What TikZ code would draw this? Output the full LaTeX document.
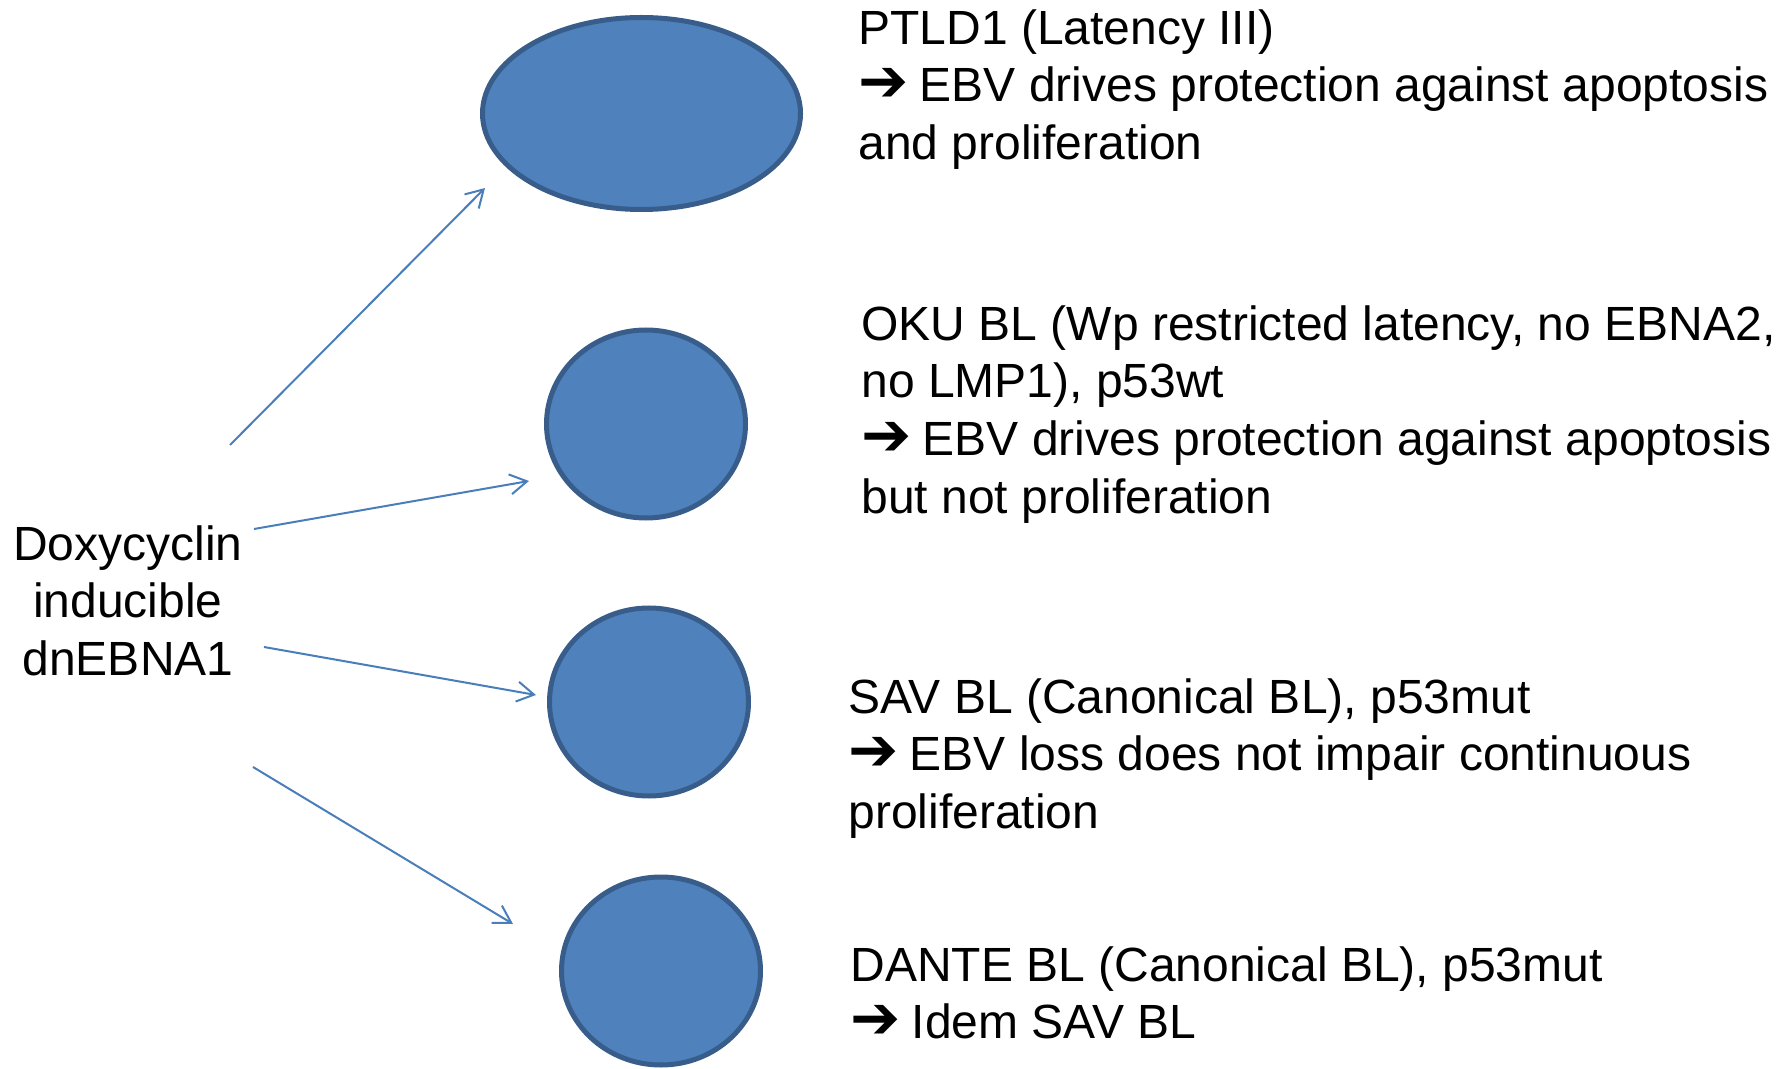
\documentclass[tikz,border=0pt]{standalone}
\usepackage{graphicx}
\usepackage{fontspec}
\setmainfont{Liberation Sans}
\newfontfamily\symfont{DejaVu Sans}
\usetikzlibrary{positioning,shapes.geometric,arrows.meta}
\definecolor{cellfill}{RGB}{79,129,189}
\definecolor{celledge}{RGB}{56,93,138}
\definecolor{arrowblue}{RGB}{74,126,187}
\newcommand{\thenarrow}{\scalebox{1.25}{\symfont\bfseries ➔}\hspace{0.23em}}
\tikzset{
    cellpic/.style={
        x=0.5pt, y=-0.5pt,
        % Cell line (blue ellipse)
        cell/.style={draw=celledge, fill=cellfill, ellipse,
                     line width=2.5pt, inner sep=0pt,
                     minimum width=99.5pt, minimum height=94pt},
        % Description next to each cell line
        desc/.style={anchor=north west, align=left, inner sep=0pt,
                     font=\fontsize{24}{28.85}\selectfont},
        % Induction arrows
        induce/.style={draw=arrowblue, line width=1pt,
                       -{Straight Barb[length=8.5pt,width=10pt]}}
    }
}

\begin{document}
\begin{tikzpicture}[cellpic]
    \useasboundingbox (0,0) rectangle (1789,1069);
    % cell lines
    \node[cell, minimum width=159pt, minimum height=96pt] (ptld) at (641.5,113.5) {};
    \node[cell] (oku) at (646,424) {};
    \node[cell] (sav) at (649,702) {};
    \node[cell] (dante) at (661,971) {};
    % descriptions
    \node[desc] (ptldtxt) at (858,9) {PTLD1 (Latency III)\\
        \thenarrow EBV drives protection against apoptosis\\
        and proliferation};
    \node[desc] (okutxt) at (861,305) {OKU BL (Wp restricted latency, no EBNA2,\\
        no LMP1), p53wt\\
        \thenarrow EBV drives protection against apoptosis\\
        but not proliferation};
    \node[desc] (savtxt) at (848,678) {SAV BL (Canonical BL), p53mut\\
        \thenarrow EBV loss does not impair continuous\\
        proliferation};
    \node[desc] (dantetxt) at (850,946) {DANTE BL (Canonical BL), p53mut\\
        \thenarrow Idem SAV BL};
    \node[desc, anchor=north, align=center] (dox) at (128,525)
        {Doxycyclin\\inducible\\dnEBNA1};
    % arrow ends
    \coordinate (s1) at (230,445);  \coordinate (e1) at (485,188);
    \coordinate (s2) at (254,529);  \coordinate (e2) at (529,481);
    \coordinate (s3) at (264,647);  \coordinate (e3) at (536,695);
    \coordinate (s4) at (253,767);  \coordinate (e4) at (513,924);
    \draw[induce] (s1) -- (e1);
    \draw[induce] (s2) -- (e2);
    \draw[induce] (s3) -- (e3);
    \draw[induce] (s4) -- (e4);
\end{tikzpicture}
\end{document}
